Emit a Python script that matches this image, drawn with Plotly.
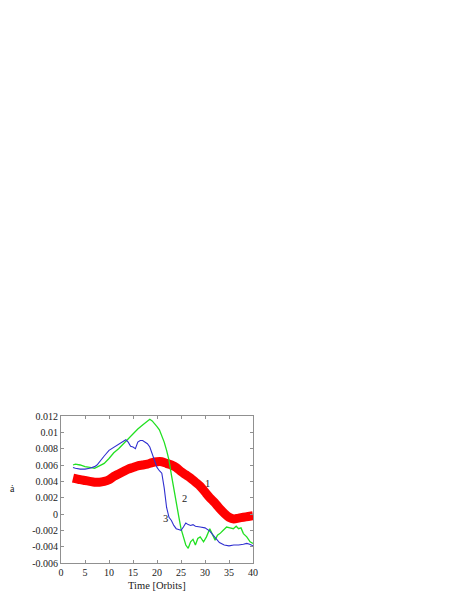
import plotly.graph_objects as go

# ---- data ----
t_red = [2.5, 4, 5, 6, 7, 8, 9, 10, 11, 12, 13, 14, 15, 16, 17, 18, 19, 20, 21, 22,
         23, 24, 25, 26, 27, 28, 29, 30, 31, 32, 33, 34, 35, 36, 37, 38, 39, 40]
a_red = [0.0044, 0.0042, 0.0041, 0.0040, 0.0039, 0.0039, 0.0040, 0.0042, 0.0046, 0.0049,
         0.0052, 0.0055, 0.0057, 0.0059, 0.0060, 0.0061, 0.0063, 0.0064, 0.0064, 0.0062,
         0.0060, 0.0057, 0.0052, 0.0048, 0.0044, 0.0039, 0.0034, 0.0027, 0.0020, 0.0014,
         0.0007, 0.0001, -0.0004, -0.0006, -0.0005, -0.0004, -0.0003, -0.0002]

t_green = [2.5, 3, 4, 5, 6, 7, 8, 9, 10, 11, 12, 13, 14, 15, 16, 17, 18, 18.5, 19, 19.5,
           20, 20.5, 21, 21.5, 22, 22.5, 23, 23.5, 24, 24.5, 25, 25.5, 26, 26.5, 27, 27.5,
           28, 28.5, 29, 29.7, 30.3, 31, 31.6, 32.1, 32.6, 33.1, 33.8, 34.5, 35.2, 35.9,
           36.5, 37, 37.5, 38, 38.7, 39.4, 40]
a_green = [0.0060, 0.0061, 0.0060, 0.0058, 0.0057, 0.0056, 0.0059, 0.0062, 0.0068, 0.0075,
           0.0080, 0.0086, 0.0093, 0.0098, 0.0104, 0.0109, 0.0114, 0.0116, 0.0114, 0.0111,
           0.0107, 0.0103, 0.0096, 0.0088, 0.0078, 0.0066, 0.0048, 0.0030, 0.0014, -0.0002,
           -0.0018, -0.0028, -0.0038, -0.0042, -0.0034, -0.0031, -0.0038, -0.0030, -0.0028,
           -0.0034, -0.0028, -0.0018, -0.0026, -0.0032, -0.0026, -0.0024, -0.0020, -0.0016,
           -0.0017, -0.0018, -0.0015, -0.0018, -0.0017, -0.0024, -0.0028, -0.0034, -0.0036]

t_blue = [2.5, 3, 4, 5, 6, 7, 7.5, 8, 9, 10, 11, 12, 13, 13.5, 14, 14.5, 15, 15.5, 16, 16.5,
          17, 17.5, 18, 18.5, 19, 19.5, 20, 20.5, 21, 21.5, 22, 22.5, 23, 23.5, 24, 24.5,
          25, 25.5, 26, 26.5, 27, 27.5, 28, 29, 30, 31, 32, 33, 34, 35, 36, 37, 38, 38.7,
          39.3, 40]
a_blue = [0.0057, 0.0056, 0.0055, 0.0055, 0.0056, 0.0058, 0.0060, 0.0064, 0.0071, 0.0078,
          0.0082, 0.0086, 0.0089, 0.0091, 0.0088, 0.0083, 0.0082, 0.0080, 0.0088, 0.0090,
          0.0090, 0.0088, 0.0086, 0.0082, 0.0074, 0.0066, 0.0057, 0.0053, 0.0050, 0.0032,
          0.0008, -0.0004, -0.0008, -0.0014, -0.0018, -0.0019, -0.0020, -0.0016, -0.0011,
          -0.0013, -0.0014, -0.0013, -0.0015, -0.0016, -0.0017, -0.0021, -0.0028, -0.0035,
          -0.0038, -0.0039, -0.0038, -0.0038, -0.0037, -0.0036, -0.0037, -0.0039]

x_ticks = [0, 5, 10, 15, 20, 25, 30, 35, 40]
y_ticks = [-0.006, -0.004, -0.002, 0, 0.002, 0.004, 0.006, 0.008, 0.01, 0.012]
y_tick_labels = ["-0.006", "-0.004", "-0.002", "0", "0.002", "0.004", "0.006",
                 "0.008", "0.01", "0.012"]

curve_labels = ["1", "2", "3"]
label_t = [30.6, 25.8, 21.7]
label_a = [0.0037, 0.0019, -0.0005]

x_title = "Time [Orbits]"
y_title = "ȧ"

FONT = "Liberation Serif, Times New Roman, serif"

fig = go.Figure()
fig.add_trace(go.Scatter(x=t_red, y=a_red, mode="lines",
                         line=dict(color="#ff0000", width=9, shape="spline", smoothing=0.8),
                         showlegend=False))
fig.add_trace(go.Scatter(x=t_green, y=a_green, mode="lines",
                         line=dict(color="#22e022", width=1.3), showlegend=False))
fig.add_trace(go.Scatter(x=t_blue, y=a_blue, mode="lines",
                         line=dict(color="#3030d0", width=1.1), showlegend=False))

for lab, xt, ya in zip(curve_labels, label_t, label_a):
    fig.add_annotation(x=xt, y=ya, text=lab, showarrow=False,
                       font=dict(family=FONT, size=10.5, color="#222"))

fig.add_annotation(xref="paper", yref="paper", x=-0.275, y=0.508, text=y_title,
                   showarrow=False, font=dict(family=FONT, size=10, color="#222"))
fig.add_annotation(xref="paper", yref="paper", x=0.5, y=-0.152, text=x_title,
                   showarrow=False, yanchor="middle",
                   font=dict(family=FONT, size=10.5, color="#222"))

axis_common = dict(showline=True, linecolor="#909090", linewidth=1, mirror="ticks",
                   ticks="inside", ticklen=3, tickcolor="#909090", showgrid=False,
                   zeroline=False, tickfont=dict(family=FONT, size=10, color="#222"))

fig.update_xaxes(range=[0, 40], tickvals=x_ticks, **axis_common)
fig.update_yaxes(range=[-0.006, 0.012], tickvals=y_ticks, ticktext=y_tick_labels,
                 **axis_common)

fig.update_layout(width=458, height=592, autosize=False,
                  margin=dict(l=61, r=205, t=416, b=29),
                  paper_bgcolor="white", plot_bgcolor="white")

fig.write_html("out.html", config={"displayModeBar": False},
               post_script="document.body.style.margin='0px';"
                           "document.body.style.overflow='hidden';")
